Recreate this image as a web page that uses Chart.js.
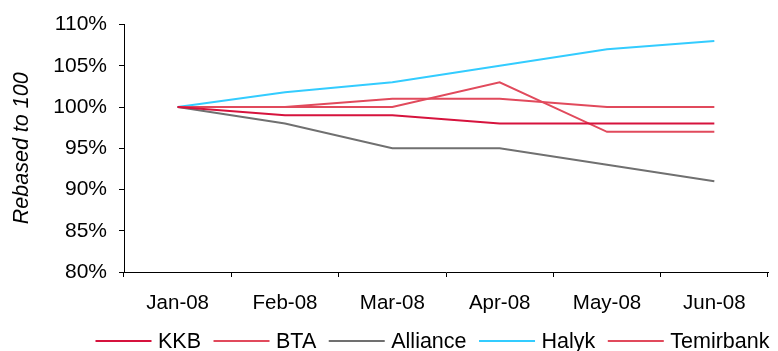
<!DOCTYPE html>
<html>
<head>
<meta charset="utf-8">
<script src="https://cdn.jsdelivr.net/npm/chart.js@4.4.1/dist/chart.umd.min.js"></script>
<style>
  html, body { margin: 0; padding: 0; background: #fff; }
  #wrap { width: 778px; height: 351px; position: relative; }
</style>
</head>
<body>
<div id="wrap"><canvas id="c"></canvas></div>
<script>
// Monthly index levels, rebased so that Jan-08 = 100
const months = ['Jan-08', 'Feb-08', 'Mar-08', 'Apr-08', 'May-08', 'Jun-08'];
const kkb       = [100, 99, 99, 98, 98, 98];
const bta       = [100, 100, 100, 103, 97, 97];
const alliance  = [100, 98, 95, 95, 93, 91];
const halyk     = [100, 101.8, 103, 105, 107, 108];
const temirbank = [100, 100, 101, 101, 100, 100];
const yTicks = { min: 80, max: 110, step: 5 };

const FAMILY = "'Liberation Sans', Arial, sans-serif";

function line(label, data, color) {
  return {
    label, data,
    borderColor: color,
    backgroundColor: color,
    borderWidth: 2,
    pointRadius: 0,
    pointHoverRadius: 0,
    tension: 0,
    fill: false
  };
}

// Single-row legend under the axis: a short line sample followed by the series name
const rowLegend = {
  id: 'rowLegend',
  afterDraw(chart, args, opts) {
    const ctx = chart.ctx;
    ctx.save();
    ctx.font = opts.fontSize + 'px ' + FAMILY;
    ctx.textBaseline = 'middle';
    ctx.textAlign = 'left';
    let x = opts.x;
    const y = opts.y;
    chart.data.datasets.forEach((ds) => {
      ctx.strokeStyle = ds.borderColor;
      ctx.lineWidth = 2;
      ctx.beginPath();
      ctx.moveTo(x, y);
      ctx.lineTo(x + opts.sample, y);
      ctx.stroke();
      x += opts.sample + opts.gap;
      ctx.fillStyle = '#000';
      ctx.fillText(ds.label, x, y + 1);
      x += ctx.measureText(ds.label).width + opts.spacing;
    });
    ctx.restore();
  }
};

new Chart(document.getElementById('c'), {
  type: 'line',
  data: {
    labels: months,
    datasets: [
      line('KKB', kkb, '#D6133D'),
      line('BTA', bta, '#E14A5C'),
      line('Alliance', alliance, '#707070'),
      line('Halyk', halyk, '#33CCFF'),
      line('Temirbank', temirbank, '#E14A5C')
    ]
  },
  plugins: [rowLegend],
  options: {
    responsive: true,
    maintainAspectRatio: false,
    animation: false,
    layout: { padding: { left: 0, right: 10, top: 20, bottom: 0 } },
    plugins: {
      tooltip: { enabled: false },
      legend: { display: false },
      rowLegend: { x: 95.5, y: 341, sample: 56, gap: 6.5, spacing: 12.5, fontSize: 21.5 }
    },
    scales: {
      x: {
        offset: true,
        border: { display: true, color: '#000', width: 1 },
        grid: { display: true, offset: true, drawOnChartArea: false, drawTicks: true, tickLength: 5, tickColor: '#000' },
        ticks: { color: '#000', font: { family: FAMILY, size: 20.5 }, padding: 14, maxRotation: 0 },
        afterFit: (s) => { s.height = 79; }
      },
      y: {
        min: yTicks.min,
        max: yTicks.max,
        border: { display: true, color: '#000', width: 1 },
        grid: { display: true, drawOnChartArea: false, drawTicks: true, tickLength: 5, tickColor: '#000' },
        ticks: {
          stepSize: yTicks.step,
          color: '#000',
          font: { family: FAMILY, size: 21 },
          padding: 12,
          callback: (v) => v + '%'
        },
        title: {
          display: true,
          text: 'Rebased to 100',
          color: '#000',
          font: { family: FAMILY, size: 21.5, style: 'italic' },
          padding: { top: 9, bottom: 4 }
        },
        afterFit: (s) => { s.width = 124; }
      }
    }
  }
});
</script>
</body>
</html>
